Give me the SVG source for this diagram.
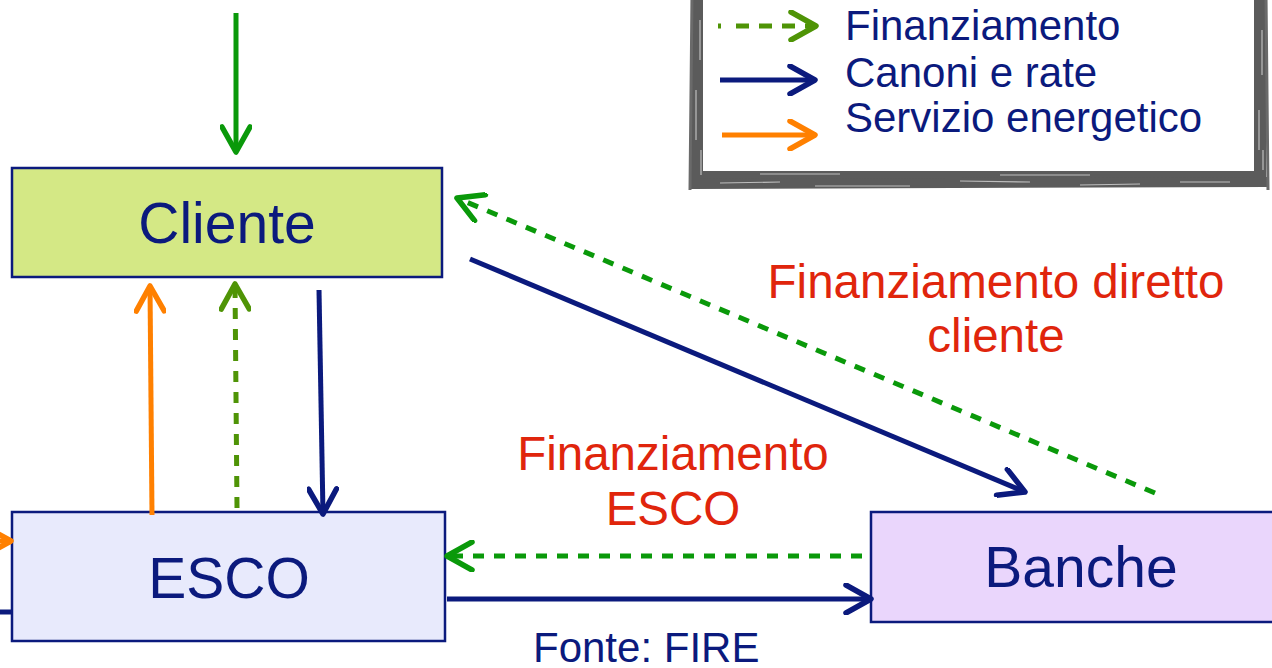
<svg xmlns="http://www.w3.org/2000/svg" width="1272" height="668" viewBox="0 0 1272 668">
<style>
  .lbl{font-family:"Liberation Sans",Arial,sans-serif;fill:#0b1a7d}
  .red{font-family:"Liberation Sans",Arial,sans-serif;fill:#e0250c;font-size:47.5px;text-anchor:middle}
  .box{stroke:#0b1a7d;stroke-width:2.5}
  .ln{fill:none;stroke-width:5}
  .navy{stroke:#0b1a7d}
  .green{stroke:#0a990a}
  .olive{stroke:#4f9406}
  .orange{stroke:#ff8000}
  .dash{stroke-dasharray:11 10}
</style>
<defs>
  <marker id="ah-navy" viewBox="-30 -16 34 32" refX="0" refY="0" markerWidth="34" markerHeight="32" markerUnits="userSpaceOnUse" orient="auto">
    <path d="M-25,-14 L0,0 L-25,14" fill="none" stroke="#0b1a7d" stroke-width="5.5" stroke-linecap="round" stroke-linejoin="round"/>
  </marker>
  <marker id="ah-green" viewBox="-30 -16 34 32" refX="0" refY="0" markerWidth="34" markerHeight="32" markerUnits="userSpaceOnUse" orient="auto">
    <path d="M-25,-14 L0,0 L-25,14" fill="none" stroke="#0a990a" stroke-width="5.5" stroke-linecap="round" stroke-linejoin="round"/>
  </marker>
  <marker id="ah-olive" viewBox="-30 -16 34 32" refX="0" refY="0" markerWidth="34" markerHeight="32" markerUnits="userSpaceOnUse" orient="auto">
    <path d="M-25,-14 L0,0 L-25,14" fill="none" stroke="#4f9406" stroke-width="5.5" stroke-linecap="round" stroke-linejoin="round"/>
  </marker>
  <marker id="ah-orange" viewBox="-30 -16 34 32" refX="0" refY="0" markerWidth="34" markerHeight="32" markerUnits="userSpaceOnUse" orient="auto">
    <path d="M-25,-14 L0,0 L-25,14" fill="none" stroke="#ff8000" stroke-width="5.5" stroke-linecap="round" stroke-linejoin="round"/>
  </marker>
</defs>
<rect width="1272" height="668" fill="#fff"/>

<g id="legend">
  <rect x="697" y="-30" width="563" height="207" fill="#fff" stroke="#5b5b5b" stroke-width="12"/>
  <path d="M691,184 L1267,182" stroke="#5b5b5b" stroke-width="10" fill="none"/>
  <path d="M692,-5 L690,190 M1266,-5 L1268,190" stroke="#6a6a6a" stroke-width="3" fill="none"/>
  <path d="M720,183 l60,-1 M815,186 l95,0 M960,181 l70,1 M1080,185 l60,-1 M1180,182 l50,0 M700,20 l0,40 M696,90 l0,50 M1262,30 l0,45 M1259,110 l0,40 M760,174 l80,0 M1000,175 l90,0 M701,150 l0,25 M1263,150 l0,20" stroke="#fff" stroke-width="1.2" opacity="0.6" fill="none"/>
  <line x1="718" y1="26" x2="816" y2="26" class="ln olive" stroke-dasharray="3 15 13 10 13 10 13 10 30" marker-end="url(#ah-olive)"/>
  <line x1="720" y1="80" x2="815" y2="80" class="ln navy" marker-end="url(#ah-navy)"/>
  <line x1="722" y1="135" x2="815" y2="135" class="ln orange" marker-end="url(#ah-orange)"/>
  <text class="lbl" x="845" y="40" font-size="42">Finanziamento</text>
  <text class="lbl" x="845" y="87" font-size="42">Canoni e rate</text>
  <text class="lbl" x="845" y="132" font-size="42">Servizio energetico</text>
</g>

<g id="cliente">
  <rect class="box" x="12" y="168" width="430" height="109" fill="#d4e885"/>
  <text class="lbl" x="227" y="243" font-size="57" text-anchor="middle">Cliente</text>
</g>

<g id="esco">
  <rect class="box" x="12" y="512" width="433" height="129" fill="#e8eafc"/>
  <text class="lbl" x="229" y="598" font-size="57" text-anchor="middle">ESCO</text>
</g>

<g id="banche">
  <rect class="box" x="871" y="512" width="420" height="110" fill="#ead6fc"/>
  <text class="lbl" x="1081" y="587" font-size="57" text-anchor="middle">Banche</text>
</g>

<g id="connectors">
  <line x1="236" y1="13" x2="236" y2="152" class="ln green" marker-end="url(#ah-green)"/>
  <line x1="152" y1="515" x2="150" y2="286" class="ln orange" marker-end="url(#ah-orange)"/>
  <line x1="237" y1="508" x2="235" y2="284" class="ln olive dash" marker-end="url(#ah-olive)"/>
  <line x1="319" y1="290" x2="323" y2="514" class="ln navy" marker-end="url(#ah-navy)"/>
  <line x1="470" y1="259" x2="1025" y2="492" class="ln navy" marker-end="url(#ah-navy)"/>
  <line x1="1155" y1="493" x2="457" y2="198" class="ln green dash" marker-end="url(#ah-green)"/>
  <line x1="862" y1="556" x2="447" y2="556" class="ln green dash" marker-end="url(#ah-green)"/>
  <line x1="447" y1="599" x2="871" y2="599" class="ln navy" marker-end="url(#ah-navy)"/>
  <line x1="-40" y1="541" x2="11" y2="541" class="ln orange" marker-end="url(#ah-orange)"/>
  <line x1="-10" y1="612" x2="12" y2="612" class="ln navy"/>
</g>

<g id="labels">
  <text class="red" x="996" y="298">Finanziamento diretto</text>
  <text class="red" x="996" y="352">cliente</text>
  <text class="red" x="673" y="470">Finanziamento</text>
  <text class="red" x="673" y="525">ESCO</text>
  <text class="lbl" x="533" y="662" font-size="42">Fonte: FIRE</text>
</g>
</svg>
